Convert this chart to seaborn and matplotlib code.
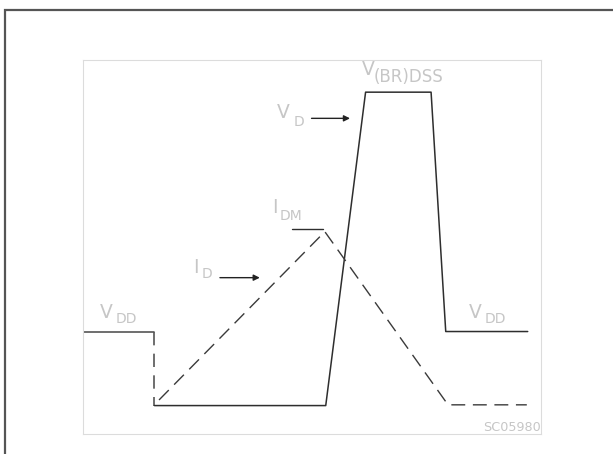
import numpy as np
import pandas as pd
import matplotlib
matplotlib.use("Agg")
import matplotlib.pyplot as plt
from matplotlib.patches import Rectangle
import seaborn as sns

# waveform data (time in arbitrary units, level in arbitrary units)
t_vdd_left = [0.0, 1.56]
v_vdd_left = [2.74, 2.74]
t_drop = [1.56, 1.56]
v_drop = [2.74, 0.76]
t_vd = [1.56, 5.30, 6.17, 7.60, 7.92, 9.71]
v_vd = [0.76, 0.76, 9.14, 9.14, 2.74, 2.74]
t_id = [1.66, 5.28, 7.97, 9.69]
i_id = [0.91, 5.41, 0.78, 0.78]
t_idm = [4.56, 5.24]
i_idm = [5.47, 5.47]

label_color = "#c6c6c6"
line_color = "#2e2e2e"
dash_style = (0, (10, 5.5))

sns.set_style("white")
plt.rcParams["font.family"] = ["DejaVu Sans"]

fig = plt.figure(figsize=(6.13, 4.54), dpi=100)
ax = fig.add_axes([83 / 613, 20 / 454, 458 / 613, 374 / 454])

# outer frame, cut off at right and bottom
fig.add_artist(Rectangle((5 / 613, -0.2), 1.2, 1.2 - 10 / 454,
                         transform=fig.transFigure, fill=False,
                         edgecolor="#555555", linewidth=1.6))

def draw(t, v, **kw):
    df = pd.DataFrame({"t": t, "v": v})
    sns.lineplot(data=df, x="t", y="v", sort=False, estimator=None, ax=ax,
                 solid_joinstyle="round", **kw)

draw(t_vdd_left, v_vdd_left, color="#555555", linewidth=1.2)
draw(t_drop, v_drop, color="#555555", linewidth=1.2, linestyle=(0, (8, 5)))
draw(t_vd, v_vd, color=line_color, linewidth=1.1)
draw(t_id, i_id, color="#3a3a3a", linewidth=1.0, linestyle=dash_style)
draw(t_idm, i_idm, color=line_color, linewidth=1.0)

ax.set_xlim(0, 10)
ax.set_ylim(0, 10)
ax.set_xlabel("")
ax.set_ylabel("")
ax.set_xticks([])
ax.set_yticks([])
for s in ax.spines.values():
    s.set_color("#dcdcdc")
    s.set_linewidth(0.8)

big = 13.5
small = 10

def label(x, y, main, sub, dx, dy, sub_size=small):
    ax.text(x, y, main, fontsize=big, color=label_color, ha="left", va="baseline")
    ax.text(x + dx, y + dy, sub, fontsize=sub_size, color=label_color,
            ha="left", va="baseline")

label(0.37, 3.10, "V", "DD", 0.34, -0.14)
label(8.43, 3.10, "V", "DD", 0.34, -0.14)
label(6.08, 9.60, "V", "(BR)DSS", 0.26, -0.19, sub_size=12)
label(4.23, 8.45, "V", "D", 0.36, -0.21)
label(4.12, 5.90, "I", "DM", 0.18, -0.18)
label(2.41, 4.30, "I", "D", 0.18, -0.14)

arrow = dict(arrowstyle="-|>", color="#222222", lw=1.0, mutation_scale=9,
             shrinkA=0, shrinkB=0)
ax.annotate("", xy=(5.83, 8.44), xytext=(4.99, 8.44), arrowprops=arrow)
ax.annotate("", xy=(3.86, 4.18), xytext=(2.99, 4.18), arrowprops=arrow)

ax.text(1.0, 0.0, "SC05980", transform=ax.transAxes, fontsize=9.2,
        color=label_color, ha="right", va="bottom")

fig.savefig("out.png", dpi=100)
plt.close(fig)
